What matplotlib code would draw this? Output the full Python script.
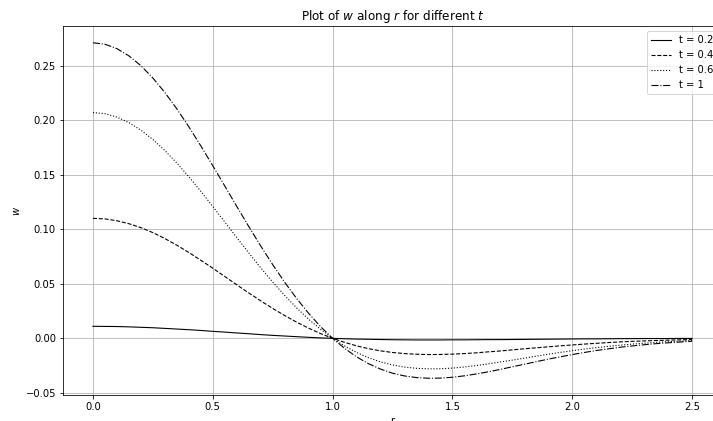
import matplotlib
matplotlib.use('Agg')
import matplotlib.pyplot as plt

# radial positions
r = [0.00, 0.05, 0.10, 0.15, 0.20, 0.25, 0.30, 0.35, 0.40, 0.45,
     0.50, 0.55, 0.60, 0.65, 0.70, 0.75, 0.80, 0.85, 0.90, 0.95,
     1.00, 1.05, 1.10, 1.15, 1.20, 1.25, 1.30, 1.35, 1.40, 1.45,
     1.50, 1.55, 1.60, 1.65, 1.70, 1.75, 1.80, 1.85, 1.90, 1.95,
     2.00, 2.05, 2.10, 2.15, 2.20, 2.25, 2.30, 2.35, 2.40, 2.45, 2.50]

# w(r) for each t
w_t02 = [0.0110, 0.0109, 0.0108, 0.0105, 0.0101, 0.0097, 0.0091, 0.0085,
         0.0079, 0.0072, 0.0064, 0.0057, 0.0049, 0.0042, 0.0034, 0.0027,
         0.0021, 0.0015, 0.0009, 0.0004, 0.0, -0.0004, -0.0007, -0.0009,
         -0.0011, -0.0013, -0.0014, -0.0015, -0.0015, -0.0015, -0.0014,
         -0.0014, -0.0013, -0.0012, -0.0012, -0.0011, -0.0010, -0.0009,
         -0.0008, -0.0007, -0.0006, -0.0005, -0.0005, -0.0004, -0.0003,
         -0.0003, -0.0002, -0.0002, -0.0002, -0.0001, -0.0001]
w_t04 = [0.1100, 0.1095, 0.1078, 0.1051, 0.1015, 0.0969, 0.0915, 0.0854,
         0.0787, 0.0716, 0.0643, 0.0567, 0.0491, 0.0416, 0.0344, 0.0274,
         0.0209, 0.0148, 0.0093, 0.0043, 0.0, -0.0037, -0.0069, -0.0095,
         -0.0115, -0.0130, -0.0140, -0.0146, -0.0149, -0.0148, -0.0145,
         -0.0140, -0.0133, -0.0124, -0.0116, -0.0106, -0.0096, -0.0087,
         -0.0078, -0.0069, -0.0061, -0.0053, -0.0046, -0.0039, -0.0033,
         -0.0028, -0.0024, -0.0020, -0.0017, -0.0014, -0.0011]
w_t06 = [0.2070, 0.2060, 0.2029, 0.1978, 0.1909, 0.1823, 0.1722, 0.1607,
         0.1482, 0.1348, 0.1209, 0.1067, 0.0924, 0.0784, 0.0647, 0.0516,
         0.0393, 0.0279, 0.0175, 0.0082, 0.0, -0.0070, -0.0130, -0.0178,
         -0.0216, -0.0244, -0.0264, -0.0275, -0.0280, -0.0279, -0.0273,
         -0.0263, -0.0250, -0.0234, -0.0217, -0.0200, -0.0182, -0.0164,
         -0.0146, -0.0129, -0.0114, -0.0099, -0.0086, -0.0074, -0.0063,
         -0.0053, -0.0045, -0.0037, -0.0031, -0.0026, -0.0021]
w_t1 = [0.2710, 0.2697, 0.2656, 0.2590, 0.2500, 0.2387, 0.2254, 0.2104,
        0.1940, 0.1765, 0.1583, 0.1397, 0.1210, 0.1026, 0.0847, 0.0676,
        0.0514, 0.0365, 0.0229, 0.0107, 0.0, -0.0092, -0.0170, -0.0233,
        -0.0282, -0.0320, -0.0345, -0.0360, -0.0366, -0.0365, -0.0357,
        -0.0344, -0.0327, -0.0307, -0.0285, -0.0261, -0.0238, -0.0214,
        -0.0191, -0.0170, -0.0149, -0.0130, -0.0112, -0.0097, -0.0082,
        -0.0070, -0.0059, -0.0049, -0.0041, -0.0034, -0.0027]

series = [('t = 0.2', w_t02, '-'),
          ('t = 0.4', w_t04, '--'),
          ('t = 0.6', w_t06, ':'),
          ('t = 1', w_t1, '-.')]


def main():
  fig = plt.figure(figsize=(713 / 72, 421 / 72), dpi=72)
  # the original picture is cropped on the right, so the axes run past the edge
  ax = fig.add_axes([63 / 713, 26 / 421, 659 / 713, 369 / 421])
  for label, w, ls in series:
    ax.plot(r, w, color='black', linestyle=ls, linewidth=1.1, label=label)
  ax.set_title('Plot of $w$ along $r$ for different $t$')
  ax.set_xlabel('r')
  ax.set_ylabel('$w$')
  ax.grid()
  ax.legend(loc='upper right')
  fig.savefig('out.png', dpi=72)


if __name__ == '__main__':
  main()
